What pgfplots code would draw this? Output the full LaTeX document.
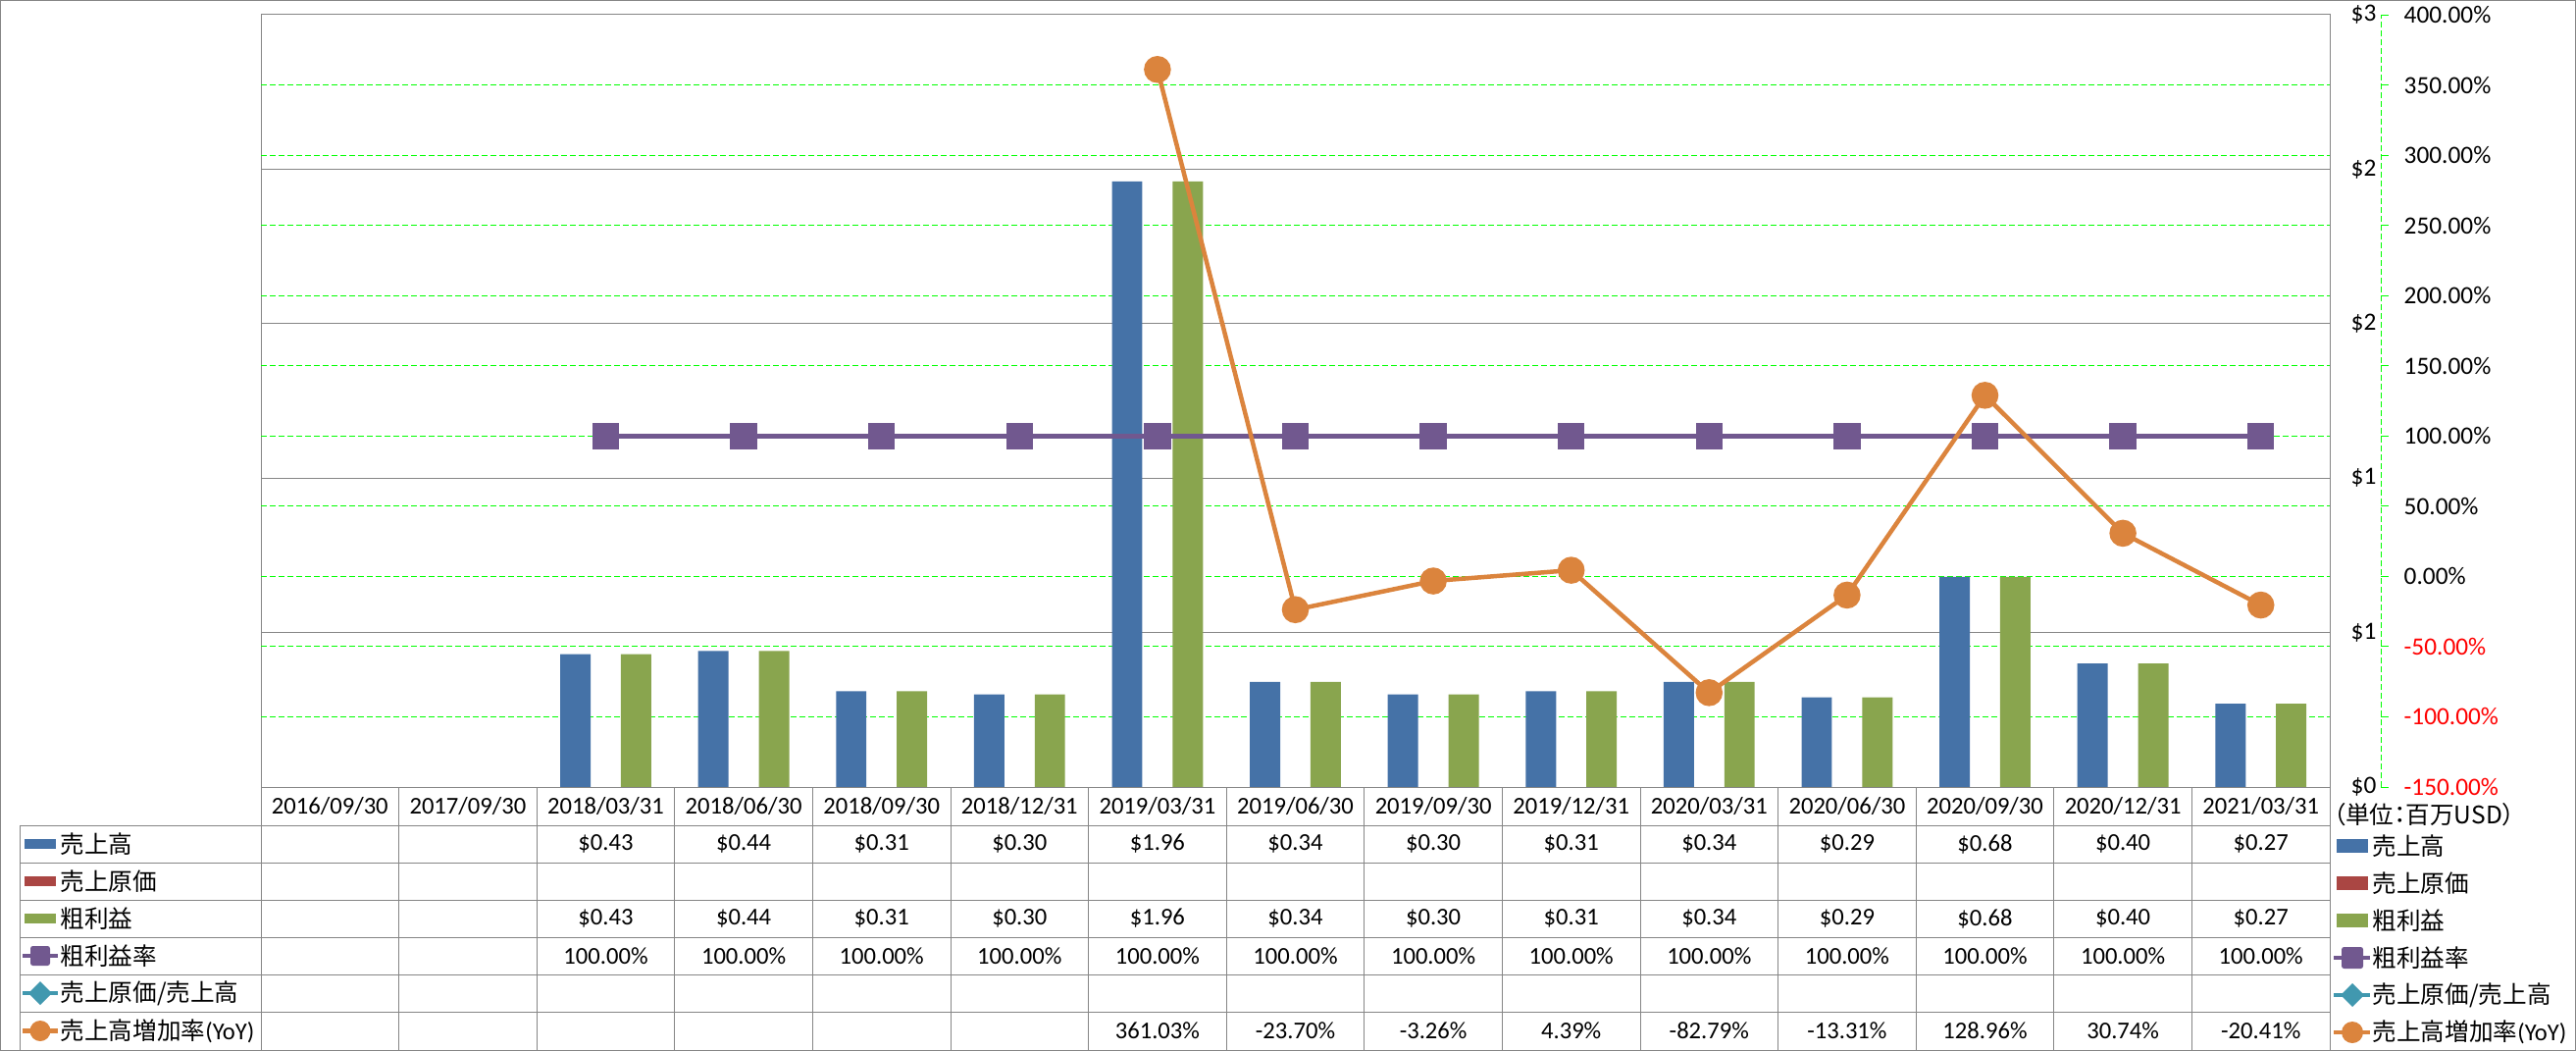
\documentclass[border=0pt]{standalone}
\usepackage{pgfplots}
\pgfplotsset{compat=1.18}
\usepackage{fontspec}
\setmainfont{Carlito}
\newfontfamily\jp{Noto Sans CJK JP}
\newfontfamily\jpp[RawFeature=+palt]{Noto Sans CJK JP}
\definecolor{cBlue}{HTML}{4572A7}
\definecolor{cRed}{HTML}{AA4643}
\definecolor{cGreen}{HTML}{89A54E}
\definecolor{cPurple}{HTML}{71588F}
\definecolor{cTeal}{HTML}{4198AF}
\definecolor{cOrange}{HTML}{DB843D}
\definecolor{gridG}{HTML}{00FF00}
\definecolor{lineGray}{HTML}{868686}
\definecolor{negRed}{HTML}{FF0000}

\pgfplotstableread{
x  sales  gross
2  0.43  0.43
3  0.44  0.44
4  0.31  0.31
5  0.30  0.30
6  1.96  1.96
7  0.34  0.34
8  0.30  0.30
9  0.31  0.31
10 0.34  0.34
11 0.29  0.29
12 0.68  0.68
13 0.40  0.40
14 0.27  0.27
}\bars

\pgfplotstableread{
x  margin
2  100
3  100
4  100
5  100
6  100
7  100
8  100
9  100
10 100
11 100
12 100
13 100
14 100
}\margin

\pgfplotstableread{
x  yoy
6  361.03
7  -23.70
8  -3.26
9  4.39
10 -82.79
11 -13.31
12 128.96
13 30.74
14 -20.41
}\yoy

\begin{document}
\fontsize{7pt}{8.4pt}\selectfont
\begin{tikzpicture}
\useasboundingbox (0,0) rectangle (262.6mm,-107.1mm);

% primary axis: bars
\begin{axis}[
  at={(26.6mm,-80.2mm)}, anchor=south west, scale only axis,
  width=210.9mm, height=78.7mm,
  xmin=-0.5, xmax=14.5, ymin=0, ymax=2.5,
  axis line style={draw=lineGray, line width=0.1mm},
  xtick=\empty,
  ytick={0,0.5,1,1.5,2,2.5},
  yticklabels={\$0,\$1,\$1,\$2,\$2,\$3},
  yticklabel pos=right, major tick length=0pt,
  yticklabel style={anchor=east, inner sep=0pt, xshift=4.8mm, font=\fontsize{7.2pt}{8pt}\selectfont},
  ymajorgrids, major grid style={draw=lineGray, line width=0.1mm},
  extra y ticks={0.22727,0.45455,0.68182,0.90909,1.13636,1.36364,1.59091,1.81818,2.04545,2.27273},
  extra y tick labels={},
  extra y tick style={grid=major, major grid style={draw=gridG, dash pattern=on 0.6mm off 0.3mm, line width=0.1mm}},
]
\addplot[ybar, bar width=0.22, bar shift=-0.22, fill=cBlue, draw=none] table[x=x, y=sales] {\bars};
\addplot[ybar, bar width=0.22, bar shift=0.22, fill=cGreen, draw=none] table[x=x, y=gross] {\bars};
\end{axis}

% secondary axis: lines
\begin{axis}[
  at={(26.6mm,-80.2mm)}, anchor=south west, scale only axis,
  width=210.9mm, height=78.7mm,
  xmin=-0.5, xmax=14.5, ymin=-150, ymax=400,
  axis line style={draw=none}, clip=false,
  xtick=\empty,
  ytick={-150,-100,-50,0,50,100,150,200,250,300,350,400},
  yticklabels={\textcolor{negRed}{-150.00\%},\textcolor{negRed}{-100.00\%},\textcolor{negRed}{-50.00\%},0.00\%,50.00\%,100.00\%,150.00\%,200.00\%,250.00\%,300.00\%,350.00\%,400.00\%},
  yticklabel pos=right, major tick length=0pt,
  yticklabel style={anchor=west, inner sep=0pt, xshift=7.5mm, font=\fontsize{7.2pt}{8pt}\selectfont},
]
\draw[gridG, dash pattern=on 0.6mm off 0.3mm, line width=0.1mm] ([xshift=5.2mm]rel axis cs:1,0) -- ([xshift=5.2mm]rel axis cs:1,1);
\pgfplotsinvokeforeach{-150,-100,-50,0,50,100,150,200,250,300,350,400}{
  \draw[gridG, line width=0.1mm] ([xshift=5.2mm]axis cs:14.5,#1) -- ([xshift=6.0mm]axis cs:14.5,#1);
}
\addplot[cPurple, line width=0.45mm, mark=square*, mark size=1.15mm, mark options={solid, rounded corners=0.25mm}] table[x=x, y=margin] {\margin};
\addplot[cOrange, line width=0.45mm, mark=*, mark size=1.15mm, mark options={solid}] table[x=x, y=yoy] {\yoy};
\end{axis}

\begin{scope}[x=0.1mm, y=-0.1mm]
  % outer border
  \draw[lineGray, line width=0.1mm] (0.5,0.5) rectangle (2625,1070.5);
  % table grid
  \draw[lineGray, line width=0.1mm] (266,802) -- (2375.5,802);
  \foreach \yy in {841,879,917,955,993,1031,1070} {
    \draw[lineGray, line width=0.1mm] (20,\yy) -- (2375.5,\yy);
  }
  \draw[lineGray, line width=0.1mm] (20,841) -- (20,1070);
  \foreach \k in {0,...,15} {
    \draw[lineGray, line width=0.1mm] ({266+140.6*\k},802) -- ({266+140.6*\k},1070);
  }
  % header
  \foreach \d [count=\k from 0] in {2016/09/30,2017/09/30,2018/03/31,2018/06/30,2018/09/30,2018/12/31,2019/03/31,2019/06/30,2019/09/30,2019/12/31,2020/03/31,2020/06/30,2020/09/30,2020/12/31,2021/03/31} {
    \node[inner sep=0pt] at ({336.3+140.6*\k},821.5) {\d};
  }
  % rows
  \foreach \k/\v in {2/0.43,3/0.44,4/0.31,5/0.30,6/1.96,7/0.34,8/0.30,9/0.31,10/0.34,11/0.29,12/0.68,13/0.40,14/0.27} {
    \node[inner sep=0pt] at ({336.3+140.6*\k},860) {\$\v};
    \node[inner sep=0pt] at ({336.3+140.6*\k},936) {\$\v};
  }
  \foreach \k in {2,...,14} {
    \node[inner sep=0pt] at ({336.3+140.6*\k},974) {100.00\%};
  }
  \foreach \k/\v in {6/361.03,7/-23.70,8/-3.26,9/4.39,10/-82.79,11/-13.31,12/128.96,13/30.74,14/-20.41} {
    \node[inner sep=0pt] at ({336.3+140.6*\k},1050.5) {\v\%};
  }
  % left legend column
  \fill[cBlue] (25,855) rectangle (57,865);
  \fill[cRed] (25,893) rectangle (57,903);
  \fill[cGreen] (25,931) rectangle (57,941);
  \draw[cPurple, line width=0.45mm] (23,974) -- (59,974);
  \fill[cPurple, rounded corners=0.25mm] (31,964) rectangle (51,984);
  \draw[cTeal, line width=0.45mm] (23,1012) -- (59,1012);
  \fill[cTeal] (41,1000) -- (53,1012) -- (41,1024) -- (29,1012) -- cycle;
  \draw[cOrange, line width=0.45mm] (23,1050.5) -- (59,1050.5);
  \fill[cOrange] (41,1050.5) circle (10.5);
  \node[anchor=west, inner sep=0pt] at (61,860) {\jp 売上高};
  \node[anchor=west, inner sep=0pt] at (61,898) {\jp 売上原価};
  \node[anchor=west, inner sep=0pt] at (61,936) {\jp 粗利益};
  \node[anchor=west, inner sep=0pt] at (61,974) {\jp 粗利益率};
  \node[anchor=west, inner sep=0pt] at (61,1012) {\jp 売上原価/売上高};
  \node[anchor=west, inner sep=0pt] at (61,1050.5) {{\jp 売上高増加率}(YoY)};
  % right legend
  \node[inner sep=0pt] at (2471,830) {\jpp （単位：百万USD）};
  \fill[cBlue] (2382,855) rectangle (2414,869);
  \fill[cRed] (2382,893) rectangle (2414,907);
  \fill[cGreen] (2382,931) rectangle (2414,945);
  \draw[cPurple, line width=0.45mm] (2379,976) -- (2416,976);
  \fill[cPurple, rounded corners=0.25mm] (2387,965) rectangle (2409,987);
  \draw[cTeal, line width=0.45mm] (2379,1014) -- (2416,1014);
  \fill[cTeal] (2398,1002) -- (2410,1014) -- (2398,1026) -- (2386,1014) -- cycle;
  \draw[cOrange, line width=0.45mm] (2379,1052) -- (2416,1052);
  \fill[cOrange] (2398,1052) circle (11);
  \node[anchor=west, inner sep=0pt] at (2418,862) {\jp 売上高};
  \node[anchor=west, inner sep=0pt] at (2418,900) {\jp 売上原価};
  \node[anchor=west, inner sep=0pt] at (2418,938) {\jp 粗利益};
  \node[anchor=west, inner sep=0pt] at (2418,976) {\jp 粗利益率};
  \node[anchor=west, inner sep=0pt] at (2418,1014) {\jp 売上原価/売上高};
  \node[anchor=west, inner sep=0pt] at (2418,1052) {{\jp 売上高増加率}(YoY)};
\end{scope}
\end{tikzpicture}
\end{document}
